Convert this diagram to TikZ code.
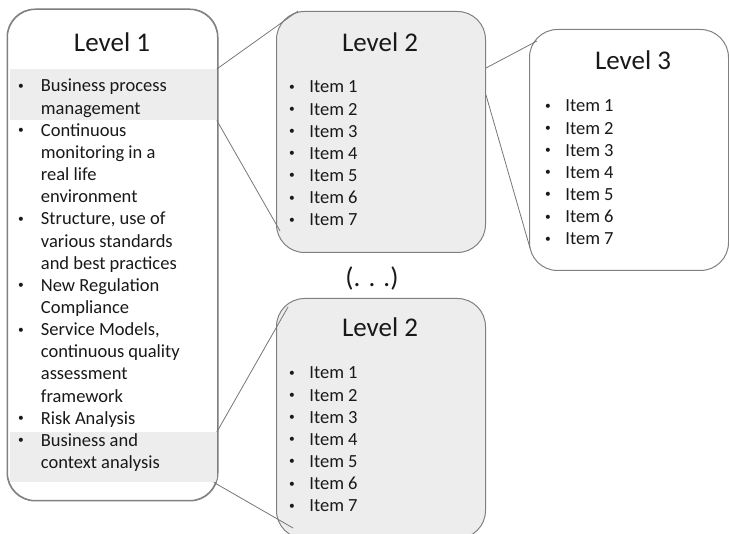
\documentclass[tikz,border=0pt]{standalone}
\usepackage{fontspec}
\setmainfont{Carlito}
\usetikzlibrary{calc}

\definecolor{boxgray}{HTML}{EDEDED}
\definecolor{edgegray}{HTML}{808080}
\definecolor{linkgray}{HTML}{767676}

% bullets: wide one for level 1, narrow one for the item lists
\newcommand{\dotmark}{\makebox[9pt][c]{\raisebox{2.6pt}{\scalebox{0.62}{•}}}}
\newcommand{\bulA}{\dotmark\hspace{15.5pt}}
\newcommand{\bulB}{\dotmark\hspace{13pt}}
\newcommand{\contA}{\hspace*{24.5pt}}
\newcommand{\itemlist}{\begin{tabular}[t]{@{}l@{}}
\bulB Item 1\\ \bulB Item 2\\ \bulB Item 3\\ \bulB Item 4\\
\bulB Item 5\\ \bulB Item 6\\ \bulB Item 7
\end{tabular}}

\begin{document}
\begin{tikzpicture}[x=1pt,y=-1pt,
    lvlbox/.style={draw=edgegray, line width=1pt, rounded corners=28pt,
      anchor=north west, inner sep=0pt},
    band/.style={fill=boxgray, anchor=north west, inner sep=0pt,
      minimum width=206.4pt},
    title/.style={inner sep=0pt, text=black!90, font=\fontsize{27}{32}\selectfont},
    list/.style={anchor=base west, inner sep=0pt, text=black!90,
      font=\fontsize{18.5}{22.15}\selectfont},
    link/.style={draw=linkgray, line width=0.8pt}]
    \useasboundingbox (0,0) rectangle (729,534);

    % level 1
    \node[lvlbox, fill=white, minimum width=210pt, minimum height=491pt] (l1) at (7,9) {};
    \begin{scope}
        \clip[rounded corners=28pt] (l1.north west) rectangle (l1.south east);
        \node[band, minimum height=51pt] (b1) at (10,69) {};
        \node[band, minimum height=50pt] (b2) at (10,432) {};
    \end{scope}
    \draw[draw=edgegray, line width=1pt, rounded corners=28pt] (l1.north west) rectangle (l1.south east);

    % level 2 and 3
    \node[lvlbox, fill=boxgray, minimum width=209pt, minimum height=241pt] (l2a) at (276,11) {};
    \node[lvlbox, fill=white, minimum width=199pt, minimum height=241pt] (l3) at (529,29) {};
    \node[lvlbox, fill=boxgray, minimum width=209pt, minimum height=240pt] (l2b) at (276,298) {};

    % titles
    \node[title] (t1) at (112,42) {Level 1};
    \node[title] (t2a) at (380,42) {Level 2};
    \node[title] (t3) at (633,60) {Level 3};
    \node[title] (t2b) at (380,327) {Level 2};
    \node[title] (dots) at (372,278) {(. . .)};

    % lists
    \node[list] (i1) at (16.2,92) {\begin{tabular}[t]{@{}l@{}}
        \bulA Business process\\ \contA management\\
        \bulA Continuous\\ \contA monitoring in a\\ \contA real life\\ \contA environment\\
        \bulA Structure, use of\\ \contA various standards\\ \contA and best practices\\
        \bulA New Regulation\\ \contA Compliance\\
        \bulA Service Models,\\ \contA continuous quality\\ \contA assessment\\ \contA framework\\
        \bulA Risk Analysis\\
        \bulA Business and\\ \contA context analysis
        \end{tabular}};
    \node[list] (i2a) at (287.2,93) {\itemlist};
    \node[list] (i3) at (543.2,112) {\itemlist};
    \node[list] (i2b) at (287.2,379) {\itemlist};

    % zoom lines
    \draw[link] (b1.north east) -- ($(l2a.north west)+(22,0)$);
    \draw[link] (b1.south east) -- ($(l2a.south west)+(4,-22)$);
    \draw[link] ($(l2a.north east)+(0,57)$) -- ($(l3.north west)+(8,12)$);
    \draw[link] ($(l2a.north east)+(0,84)$) -- ($(l3.south west)+(1,-23)$);
    \draw[link] (b2.north east) -- ($(l2b.north west)+(12,9)$);
    \draw[link] ($(b2.south east)+(-3,0)$) -- ($(l2b.south west)+(17,-11)$);

\end{tikzpicture}
\end{document}
